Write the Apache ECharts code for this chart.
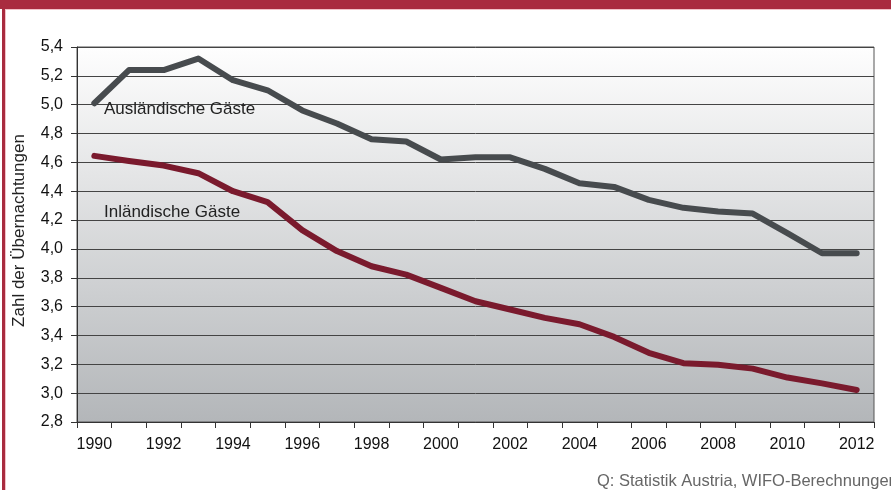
<!DOCTYPE html>
<html>
<head>
<meta charset="utf-8">
<script src="https://cdn.jsdelivr.net/npm/echarts@6/dist/echarts.min.js"></script>
<style>
html,body{margin:0;padding:0;background:#fff;}
#c{width:891px;height:490px;}
</style>
</head>
<body>
<div id="c"></div>
<script>
var years = ['1990','1991','1992','1993','1994','1995','1996','1997','1998','1999','2000','2001','2002','2003','2004','2005','2006','2007','2008','2009','2010','2011','2012'];
var auslaendische = [5.01,5.24,5.24,5.32,5.17,5.10,4.96,4.87,4.76,4.745,4.62,4.635,4.635,4.555,4.455,4.43,4.34,4.285,4.26,4.245,4.11,3.97,3.97];
var inlaendische = [4.645,4.61,4.578,4.525,4.40,4.325,4.13,3.985,3.88,3.822,3.73,3.637,3.58,3.522,3.478,3.39,3.28,3.208,3.197,3.17,3.108,3.068,3.022];
var yTicks = {min:2.8, max:5.4, interval:0.2};
var seriesNames = ['Ausländische Gäste','Inländische Gäste'];
var yAxisTitle = 'Zahl der Übernachtungen';
var sourceText = 'Q: Statistik Austria, WIFO-Berechnungen';

var chart = echarts.init(document.getElementById('c'));
var font = '"Liberation Sans", Arial, sans-serif';
chart.setOption({
  animation:false,
  backgroundColor:'#ffffff',
  grid:{
    left:77, right:17, top:47, bottom:68,
    show:true,
    borderColor:'#555',
    borderWidth:1,
    backgroundColor:{type:'linear',x:0,y:0,x2:0,y2:1,colorStops:[{offset:0,color:'#fefefe'},{offset:1,color:'#b3b6b9'}]}
  },
  xAxis:{
    type:'category',
    data:years,
    boundaryGap:true,
    axisLine:{lineStyle:{color:'#333',width:1}},
    axisTick:{show:true,interval:0,length:6,lineStyle:{color:'#333'}},
    axisLabel:{interval:1,color:'#111',fontSize:16,fontFamily:font,margin:15},
    splitLine:{show:false}
  },
  yAxis:{
    type:'value',
    min:yTicks.min, max:yTicks.max, interval:yTicks.interval,
    name:yAxisTitle,
    nameLocation:'middle',
    nameGap:49,
    nameTextStyle:{color:'#222',fontSize:17,fontFamily:font,padding:[0,0,0,8]},
    axisLine:{show:true,lineStyle:{color:'#333',width:1}},
    axisTick:{show:true,length:6,lineStyle:{color:'#333'}},
    axisLabel:{color:'#111',fontSize:16,fontFamily:font,margin:14,
      formatter:function(v){return v.toFixed(1).replace('.',',');}},
    splitLine:{show:true,lineStyle:{color:'#444',width:1}}
  },
  series:[
    {name:seriesNames[0],type:'line',data:auslaendische,symbol:'none',
      lineStyle:{color:'#474b4e',width:6,cap:'round',join:'round'},z:3},
    {name:seriesNames[1],type:'line',data:inlaendische,symbol:'none',
      lineStyle:{color:'#7a1a2d',width:6,cap:'round',join:'round'},z:3}
  ],
  graphic:[
    {type:'rect',shape:{x:0,y:0,width:891,height:9},style:{fill:'#a92b3f'},silent:true},
    {type:'rect',shape:{x:2,y:9,width:3,height:481},style:{fill:'#a92b3f'},silent:true},
    {type:'rect',shape:{x:5,y:9,width:886,height:1},style:{fill:'#f2c2c8'},silent:true},
    {type:'rect',shape:{x:5,y:10,width:1,height:480},style:{fill:'#f2c2c8'},silent:true},
    {type:'text',left:104,top:101,z:10,style:{text:seriesNames[0],fill:'#222',font:'17px '+font}},
    {type:'text',left:104,top:204,z:10,style:{text:seriesNames[1],fill:'#222',font:'17px '+font}},
    {type:'text',left:597,top:473,z:10,style:{text:sourceText,fill:'#666',font:'16.5px '+font}}
  ]
});
</script>
</body>
</html>
